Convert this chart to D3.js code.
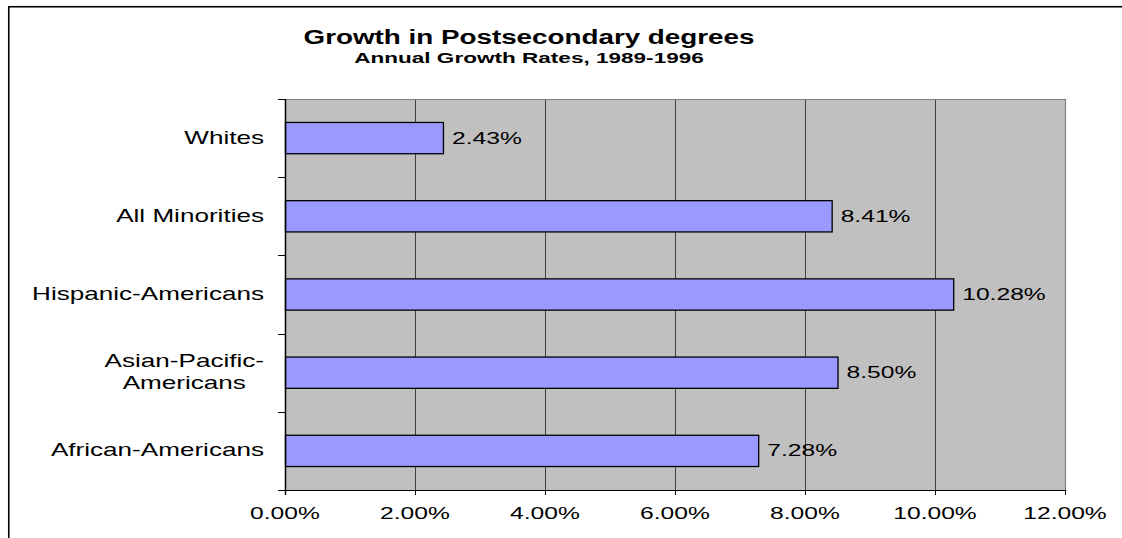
<!DOCTYPE html>
<html>
<head>
<meta charset="utf-8">
<script src="https://cdn.jsdelivr.net/npm/d3@7"></script>
<style>
  html, body { margin: 0; padding: 0; background: #fff; }
  svg { display: block; }
  text { font-family: "Liberation Sans", Arial, sans-serif; fill: #000; }
</style>
</head>
<body>
<svg id="chart" width="1122" height="538"></svg>
<script>
// ---- data ----
const categories = ["Whites", "All Minorities", "Hispanic-Americans", "Asian-Pacific-Americans", "African-Americans"];
const categoryLines = [["Whites"], ["All Minorities"], ["Hispanic-Americans"], ["Asian-Pacific-", "Americans"], ["African-Americans"]];
const values = [2.43, 8.41, 10.28, 8.50, 7.28];
const valueLabels = ["2.43%", "8.41%", "10.28%", "8.50%", "7.28%"];
const xTicks = [0, 2, 4, 6, 8, 10, 12];
const xTickLabels = ["0.00%", "2.00%", "4.00%", "6.00%", "8.00%", "10.00%", "12.00%"];
const title = "Growth in Postsecondary degrees";
const subtitle = "Annual Growth Rates, 1989-1996";

// ---- layout ----
const SX = 1.45; // horizontal text stretch of the original rendering
const svg = d3.select("#chart");
const plot = { left: 285, right: 1065, top: 99, bottom: 490 };

// outer chart frame (extends past the picture on right / bottom)
svg.append("rect").attr("x", 8.75).attr("y", 6.75).attr("width", 1300).attr("height", 700)
  .attr("fill", "#fff").attr("stroke", "#000").attr("stroke-width", 1.6);

const x = d3.scaleLinear().domain([0, 12]).range([plot.left, plot.right]);
const y = d3.scaleBand().domain(categories).range([plot.top, plot.bottom])
  .paddingInner(0.6).paddingOuter(0.3);

function stext(g, tx, ty, str, anchor, size, weight, sx) {
  const s = sx || SX;
  return g.append("text")
    .attr("transform", `translate(${tx},${ty}) scale(${s},1)`)
    .attr("text-anchor", anchor)
    .attr("font-size", size)
    .attr("font-weight", weight || "normal")
    .text(str);
}

// plot background
svg.append("rect").attr("x", plot.left).attr("y", plot.top)
  .attr("width", plot.right - plot.left).attr("height", plot.bottom - plot.top)
  .attr("fill", "#C0C0C0");

// gridlines
svg.append("g").selectAll("line").data(xTicks.slice(1, -1)).join("line")
  .attr("x1", d => Math.round(x(d)) + 0.5).attr("x2", d => Math.round(x(d)) + 0.5)
  .attr("y1", plot.top).attr("y2", plot.bottom)
  .attr("stroke", "#404040").attr("stroke-width", 1);

// plot border top/right
svg.append("path")
  .attr("d", `M${plot.left},${plot.top + 0.5}H${plot.right + 0.5}V${plot.bottom}`)
  .attr("fill", "none").attr("stroke", "#808080").attr("stroke-width", 1.2);

// bars
svg.append("g").selectAll("rect").data(categories).join("rect")
  .attr("x", plot.left + 0.5)
  .attr("y", d => y(d))
  .attr("width", (d, i) => x(values[i]) - plot.left)
  .attr("height", y.bandwidth())
  .attr("fill", "#9999FF").attr("stroke", "#000").attr("stroke-width", 1.3);

// x axis (bottom)
const xAxis = d3.axisBottom(x).tickValues(xTicks).tickSize(5).tickFormat("");
const gx = svg.append("g").attr("transform", `translate(0,${plot.bottom})`).call(xAxis);
gx.select(".domain").attr("stroke", "#000").attr("d", `M${plot.left},0.5H${plot.right}`);
gx.selectAll(".tick line").attr("stroke", "#000");
xTicks.forEach((t, i) => stext(svg, x(t), 519, xTickLabels[i], "middle", 17));

// y axis (left) with ticks at category boundaries
const step = y.step();
const boundaries = d3.range(categories.length + 1).map(i => plot.top + i * step);
svg.append("line").attr("x1", plot.left + 0.5).attr("x2", plot.left + 0.5)
  .attr("y1", plot.top).attr("y2", plot.bottom + 5).attr("stroke", "#000").attr("stroke-width", 1.5);
svg.append("g").selectAll("line").data(boundaries).join("line")
  .attr("x1", plot.left - 7).attr("x2", plot.left)
  .attr("y1", d => Math.round(d) + 0.5).attr("y2", d => Math.round(d) + 0.5)
  .attr("stroke", "#000");

// category labels
const labelRight = 264;
categories.forEach((c, i) => {
  const lines = categoryLines[i];
  const cy = y(c) + y.bandwidth() / 2;
  if (lines.length === 1) {
    stext(svg, labelRight, cy + 5.5, lines[0], "end", 18);
  } else {
    const g = svg.append("g");
    const texts = lines.map((l, k) => stext(g, 0, 0, l, "middle", 18));
    const w = d3.max(texts, t => t.node().getComputedTextLength()) * SX;
    const cx = labelRight - w / 2;
    const lh = 22;
    texts.forEach((t, k) => t.attr("transform",
      `translate(${cx},${cy + 5.5 - (lines.length - 1) * lh / 2 + k * lh}) scale(${SX},1)`));
  }
  // value label
  stext(svg, x(values[i]) + 9, cy + 5.5, valueLabels[i], "start", 17);
});

// titles
stext(svg, 529, 44, title, "middle", 20, "bold", 1.39);
stext(svg, 529, 62.5, subtitle, "middle", 15.5, "bold", 1.455);
</script>
</body>
</html>
